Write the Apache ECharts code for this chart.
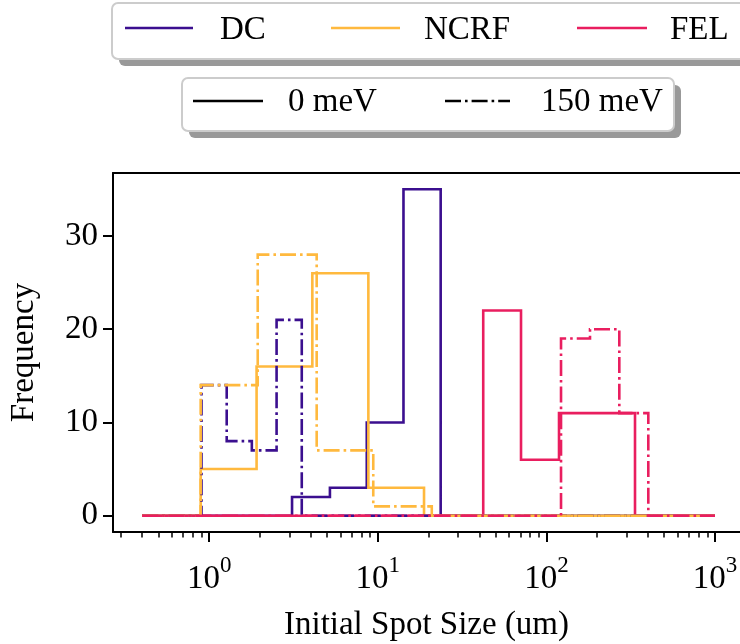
<!DOCTYPE html>
<html>
<head>
<meta charset="utf-8">
<script src="https://cdn.jsdelivr.net/npm/echarts@6/dist/echarts.min.js"></script>
<style>html,body{margin:0;padding:0;background:#fff}#c{width:740px;height:644px}</style>
</head>
<body>
<div id="c"></div>
<script>
// ---- data (bin edges in um, counts per bin) ----
const rangeStart = 0.4;
const rangeEnd = 1000;
const dc0Edges = [3.1, 5.2, 8.6, 14.2, 23.6];
const dc0Counts = [2, 3, 10, 35];
const ncrf0Edges = [0.89, 1.91, 4.09, 8.79, 18.8];
const ncrf0Counts = [5, 16, 26, 3];
const fel0Edges = [42.2, 70.7, 118.8, 199.6, 335.4];
const fel0Counts = [22, 6, 11, 11];
const dc150Edges = [0.90, 1.27, 1.79, 2.51, 3.54];
const dc150Counts = [14, 8, 7, 21];
const ncrf150Edges = [0.89, 1.94, 4.34, 9.40, 20.9];
const ncrf150Counts = [14, 28, 7, 1];
const fel150Edges = [122.1, 181.4, 270.7, 402.2];
const fel150Counts = [19, 20, 11];
const yTicks = [0, 10, 20, 30];
const xMajorTicks = [1, 10, 100, 1000];
const xMinorTicks = [0.3,0.4,0.5,0.6,0.7,0.8,0.9,2,3,4,5,6,7,8,9,20,30,40,50,60,70,80,90,200,300,400,500,600,700,800,900];

const FONT = 'Liberation Serif';
const FS = 33;
const C_DC = '#3b0f8f', C_NCRF = '#ffb93e', C_FEL = '#e91e5f';
const LW = 2.6;
const DASHDOT = [16, 4, 2.6, 4];

function stepPoints(edges, counts) {
  const pts = [[rangeStart, 0], [edges[0], 0]];
  for (let i = 0; i < counts.length; i++) {
    pts.push([edges[i], counts[i]]);
    pts.push([edges[i + 1], counts[i]]);
  }
  pts.push([edges[edges.length - 1], 0]);
  pts.push([rangeEnd, 0]);
  return pts;
}
function ser(name, edges, counts, color, dashed) {
  return {
    name: name, type: 'line', xAxisIndex: 0, yAxisIndex: 0,
    data: stepPoints(edges, counts), showSymbol: false, symbol: 'none',
    animation: false, clip: false,
    lineStyle: { color: color, width: LW, type: dashed ? DASHDOT : 'solid', cap: 'butt', join: 'miter' }
  };
}

const xMin = Math.pow(10, -0.5706), xMax = Math.pow(10, 3.1483);
const gridPos = { left: 113, top: 173, right: 0, bottom: 112, outerBoundsMode: 'none', containLabel: false };

const chart = echarts.init(document.getElementById('c'), null, { renderer: 'canvas' });
const supMap = { '1': '0', '10': '1', '100': '2', '1000': '3' };

const option = {
  backgroundColor: '#fff',
  animation: false,
  grid: [
    Object.assign({ show: false }, gridPos),
    Object.assign({ show: false }, gridPos)
  ],
  xAxis: [{
    type: 'log', gridIndex: 0, min: xMin, max: xMax, position: 'bottom',
    name: 'Initial Spot Size (um)', nameLocation: 'middle', nameGap: 77,
    nameTextStyle: { fontFamily: FONT, fontSize: FS, color: '#000' },
    axisLine: { show: true, onZero: false, lineStyle: { color: '#000', width: 2 } },
    axisTick: { show: true, length: 10, customValues: xMajorTicks, lineStyle: { color: '#000', width: 2 } },
    minorTick: { show: false },
    splitLine: { show: false },
    axisLabel: {
      show: true, margin: 22, customValues: xMajorTicks,
      formatter: function (v) { return '{b|10}{s|' + supMap[String(Math.round(v))] + '}'; },
      rich: {
        b: { fontFamily: FONT, fontSize: FS, color: '#000', lineHeight: 50 },
        s: { fontFamily: FONT, fontSize: 23, color: '#000', verticalAlign: 'top', lineHeight: 23 }
      }
    }
  }, {
    type: 'log', gridIndex: 1, min: xMin, max: xMax, position: 'bottom',
    axisLine: { show: false, onZero: false },
    axisTick: { show: true, length: 5.5, customValues: xMinorTicks, lineStyle: { color: '#000', width: 1.5 } },
    axisLabel: { show: false }, splitLine: { show: false }
  }, {
    type: 'log', gridIndex: 1, min: xMin, max: xMax, position: 'top',
    axisLine: { show: true, onZero: false, lineStyle: { color: '#000', width: 2 } },
    axisTick: { show: false }, axisLabel: { show: false }, splitLine: { show: false }
  }],
  yAxis: [{
    type: 'value', gridIndex: 0, min: -1.75, max: 36.75,
    name: 'Frequency', nameLocation: 'middle', nameGap: 72, nameRotate: 90,
    nameTextStyle: { fontFamily: FONT, fontSize: FS, color: '#000' },
    axisLine: { show: true, onZero: false, lineStyle: { color: '#000', width: 2 } },
    axisTick: { show: true, length: 10, customValues: yTicks, lineStyle: { color: '#000', width: 2 } },
    axisLabel: { show: true, margin: 15, customValues: yTicks, fontFamily: FONT, fontSize: FS, color: '#000' },
    splitLine: { show: false }
  }, {
    type: 'value', gridIndex: 1, min: -1.75, max: 36.75, show: false
  }],
  series: [
    ser('DC', dc0Edges, dc0Counts, C_DC, false),
    ser('NCRF', ncrf0Edges, ncrf0Counts, C_NCRF, false),
    ser('FEL', fel0Edges, fel0Counts, C_FEL, false),
    ser('DC 150', dc150Edges, dc150Counts, C_DC, true),
    ser('NCRF 150', ncrf150Edges, ncrf150Counts, C_NCRF, true),
    ser('FEL 150', fel150Edges, fel150Counts, C_FEL, true)
  ],
  graphic: [
    // legend 1
    { type: 'rect', z: 100, shape: { x: 119, y: 10, width: 640, height: 56, r: 6 }, style: { fill: '#999' } },
    { type: 'rect', z: 101, shape: { x: 112, y: 3, width: 640, height: 56, r: 6 }, style: { fill: '#fff', stroke: '#ccc', lineWidth: 2 } },
    { type: 'line', z: 102, shape: { x1: 125, y1: 28, x2: 193, y2: 28 }, style: { stroke: C_DC, lineWidth: LW } },
    { type: 'text', z: 102, x: 220, y: 30, style: { text: 'DC', fontFamily: FONT, fontSize: FS, fill: '#000', verticalAlign: 'middle' } },
    { type: 'line', z: 102, shape: { x1: 331, y1: 28, x2: 400, y2: 28 }, style: { stroke: C_NCRF, lineWidth: LW } },
    { type: 'text', z: 102, x: 424, y: 30, style: { text: 'NCRF', fontFamily: FONT, fontSize: FS, fill: '#000', verticalAlign: 'middle' } },
    { type: 'line', z: 102, shape: { x1: 577, y1: 28, x2: 647, y2: 28 }, style: { stroke: C_FEL, lineWidth: LW } },
    { type: 'text', z: 102, x: 670, y: 30, style: { text: 'FEL', fontFamily: FONT, fontSize: FS, fill: '#000', verticalAlign: 'middle' } },
    // legend 2
    { type: 'rect', z: 100, shape: { x: 189, y: 85, width: 492, height: 53, r: 6 }, style: { fill: '#999' } },
    { type: 'rect', z: 101, shape: { x: 182, y: 78, width: 492, height: 53, r: 6 }, style: { fill: '#fff', stroke: '#ccc', lineWidth: 2 } },
    { type: 'line', z: 102, shape: { x1: 193, y1: 101, x2: 263, y2: 101 }, style: { stroke: '#000', lineWidth: LW } },
    { type: 'text', z: 102, x: 288, y: 102, style: { text: '0 meV', fontFamily: FONT, fontSize: FS, fill: '#000', verticalAlign: 'middle' } },
    { type: 'line', z: 102, shape: { x1: 445, y1: 101, x2: 510, y2: 101 }, style: { stroke: '#000', lineWidth: LW, lineDash: DASHDOT } },
    { type: 'text', z: 102, x: 541, y: 102, style: { text: '150 meV', fontFamily: FONT, fontSize: FS, fill: '#000', verticalAlign: 'middle' } }
  ]
};
chart.setOption(option);
</script>
</body>
</html>
